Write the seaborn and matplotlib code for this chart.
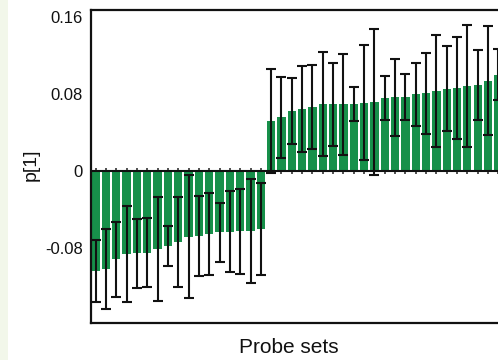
import matplotlib
matplotlib.use("Agg")
import matplotlib.pyplot as plt
from matplotlib.patches import Rectangle
import numpy as np
import pandas as pd
import seaborn as sns

# Loadings on the first component, sorted, with their jackknife uncertainty
neg_loadings = [-0.104, -0.102, -0.092, -0.0865, -0.0858, -0.085, -0.081, -0.078,
                -0.0743, -0.0684, -0.0677, -0.0656, -0.0639, -0.0632, -0.0628,
                -0.0622, -0.0608]
neg_errors = [0.032, 0.042, 0.039, 0.050, 0.036, 0.036, 0.054, 0.021, 0.047,
              0.064, 0.042, 0.043, 0.031, 0.042, 0.044, 0.054, 0.048]
pos_loadings = [0.0524, 0.0559, 0.0625, 0.0646, 0.0667, 0.0695, 0.0695, 0.0695,
                0.0698, 0.0711, 0.0722, 0.0757, 0.0767, 0.0774, 0.0799, 0.0809,
                0.0836, 0.0857, 0.0868, 0.0885, 0.0896, 0.094, 0.1005]
pos_errors = [0.054, 0.042, 0.034, 0.045, 0.044, 0.054, 0.043, 0.0525, 0.018,
              0.060, 0.076, 0.023, 0.040, 0.024, 0.033, 0.042, 0.0585, 0.044,
              0.053, 0.064, 0.036, 0.057, 0.027]

y_ticks = [-0.08, 0, 0.08, 0.16]
y_tick_labels = ["-0.08", "0", "0.08", "0.16"]

loadings = neg_loadings + pos_loadings
errors = neg_errors + pos_errors
probe_ids = [f"PS{i + 1:02d}" for i in range(len(loadings))]
df = pd.DataFrame({"probe": probe_ids, "p1": loadings, "err": errors})

sns.set_theme(style="white")
plt.rcParams["font.family"] = ["Liberation Sans", "DejaVu Sans"]

fig = plt.figure(figsize=(4.98, 3.6), dpi=100)
# pale strip along the left edge of the panel
fig.patches.append(Rectangle((0, 0), 8 / 498, 1, transform=fig.transFigure,
                             facecolor="#F2F7EA", edgecolor="none", zorder=0))

ax = fig.add_axes([91 / 498, 37 / 360, 413 / 498, 313 / 360])

bar_color = "#17904A"
sns.barplot(data=df, x="probe", y="p1", color=bar_color, saturation=1,
            width=0.8, errorbar=None, ax=ax, zorder=2, edgecolor="none")

xpos = np.arange(len(df))
# baseline at zero with a small tick under every probe set
ax.plot(xpos, np.zeros(len(df)), linestyle="none", marker="|",
        markersize=4.5, markeredgewidth=1.1, color="#222222", zorder=1)
ax.axhline(0, color="#111111", linewidth=1.5, zorder=3)

ax.errorbar(xpos, df["p1"], yerr=df["err"], fmt="none", ecolor="#111111",
            elinewidth=1.5, capsize=3.6, capthick=1.5, zorder=4)

ax.set_xlim(-0.45, len(df) - 0.45)
ax.set_ylim(-0.1583, 0.1677)
ax.set_yticks(y_ticks)
ax.set_yticklabels(y_tick_labels)
ax.set_xticks([])
ax.tick_params(axis="y", length=0, pad=6, labelsize=12, colors="#111111")

for side in ["left", "top", "bottom", "right"]:
    ax.spines[side].set_color("#111111")
    ax.spines[side].set_linewidth(1.6)

ax.set_xlabel("Probe sets", fontsize=15, color="#111111")
ax.set_ylabel("p[1]", fontsize=14, color="#111111")
ax.xaxis.set_label_coords(0.479, -0.077)
ax.xaxis.label.set_va("center")
ax.yaxis.set_label_coords(-0.145, 0.505)
ax.yaxis.label.set_va("center")

fig.savefig("out.png", dpi=100)
